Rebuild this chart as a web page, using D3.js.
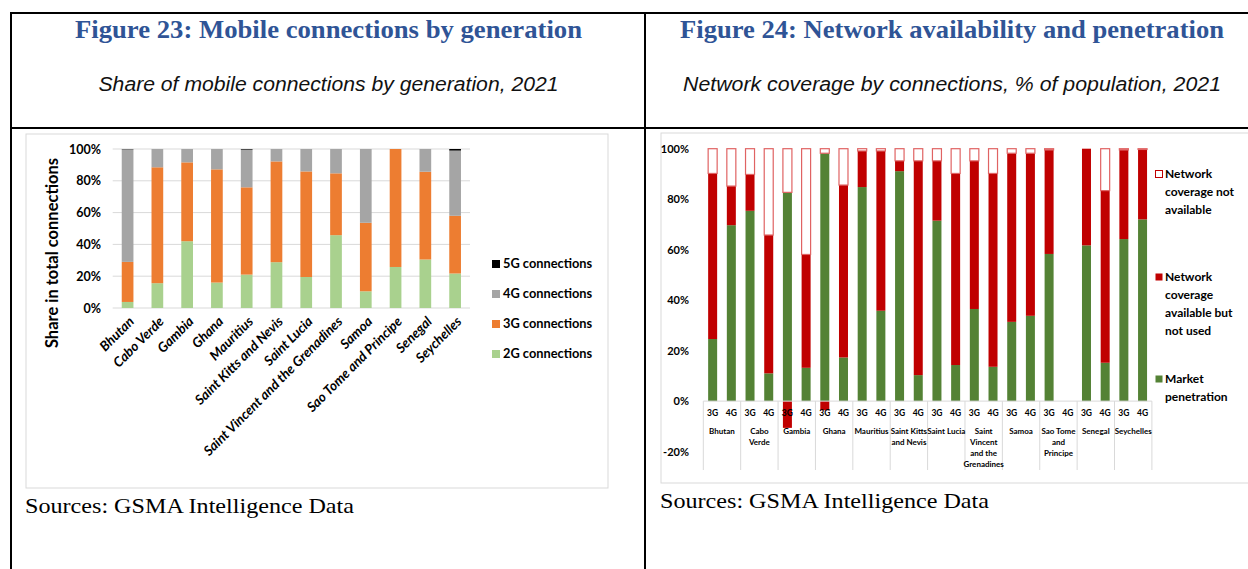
<!DOCTYPE html>
<html>
<head>
<meta charset="utf-8">
<script src="https://cdn.jsdelivr.net/npm/d3@7"></script>
<style>
  body { margin: 0; background: #fff; }
  svg text { font-family: Lato, "Open Sans", sans-serif; }
</style>
</head>
<body>
<div id="page"></div>
<script>
// ---- Figure 23 data (share of connections, %) ----
const countries = ["Bhutan", "Cabo Verde", "Gambia", "Ghana", "Mauritius", "Saint Kitts and Nevis",
  "Saint Lucia", "Saint Vincent and the Grenadines", "Samoa", "Sao Tome and Principe", "Senegal", "Seychelles"];
const share2G = [3.8, 15.6, 42, 16, 21, 28.8, 19.5, 45.8, 10.5, 25.8, 30.5, 21.7];
const share3G = [25.2, 72.9, 49.6, 71.2, 54.9, 63.4, 66.4, 38.9, 43.1, 74.2, 55.2, 36.3];
const share4G = [70.8, 11.5, 8.4, 12.8, 23.7, 7.8, 14.1, 15.3, 46.4, 0, 14.3, 41];
const share5G = [0.2, 0, 0, 0, 0.4, 0, 0, 0, 0, 0, 0, 1];
const genKeys = ["2G connections", "3G connections", "4G connections", "5G connections"];
const leftTicks = [0, 20, 40, 60, 80, 100];

// ---- Figure 24 data (% of population) ----
const groupLabels = ["Bhutan", "Cabo\nVerde", "Gambia", "Ghana", "Mauritius", "Saint Kitts\nand Nevis",
  "Saint Lucia", "Saint\nVincent\nand the\nGrenadines", "Samoa", "Sao Tome\nand\nPrincipe", "Senegal", "Seychelles"];
const techs = ["3G", "4G"];
const penetration = [24.6, 69.7, 75.4, 11, 82.7, 13.2, 98.2, 17.3, 84.8, 35.8, 91.1, 10.3,
  71.5, 14.3, 36.5, 13.6, 31.4, 33.8, 58.3, 0, 61.7, 15.2, 64.2, 72];
const availNotUsed = [65.6, 15.5, 14.4, 54.8, -10.6, 44.9, -3.6, 68.3, 14.3, 63.3, 4.1, 84.9,
  23.7, 75.9, 58.7, 76.6, 66.8, 64.4, 41.2, 0, 38.3, 68.2, 35.3, 27.7];
const notAvailable = [9.8, 14.8, 10.2, 34.2, 17.3, 41.9, 1.8, 14.4, 0.9, 0.9, 4.8, 4.8,
  4.8, 9.8, 4.8, 9.8, 1.8, 1.8, 0.5, 0, 0, 16.6, 0.5, 0.3];
const covKeys = ["Market penetration", "Network coverage available but not used", "Network coverage not available"];
const rightTicks = [-20, 0, 20, 40, 60, 80, 100];

const W = 1248, H = 569;
const svg = d3.select("#page").append("svg").attr("width", W).attr("height", H);

// ---- table frame ----
const frame = svg.append("g").attr("stroke", "#000").attr("stroke-width", 2);
frame.append("line").attr("x1", 11).attr("x2", W).attr("y1", 13).attr("y2", 13);
frame.append("line").attr("x1", 11).attr("x2", W).attr("y1", 128).attr("y2", 128);
frame.append("line").attr("x1", 11).attr("x2", 11).attr("y1", 12).attr("y2", H);
frame.append("line").attr("x1", 645).attr("x2", 645).attr("y1", 12).attr("y2", H);

function heading(cx, title, titleW, sub, subW) {
  svg.append("text").attr("x", cx - titleW / 2).attr("y", 38)
    .attr("textLength", titleW).attr("lengthAdjust", "spacingAndGlyphs")
    .style("font-family", "'Liberation Serif', serif").style("font-weight", "bold")
    .style("font-size", "25px").attr("fill", "#2f5496").text(title);
  svg.append("text").attr("x", cx - subW / 2).attr("y", 91)
    .attr("textLength", subW).attr("lengthAdjust", "spacingAndGlyphs")
    .style("font-family", "'Liberation Sans', Arial, sans-serif").style("font-style", "italic")
    .style("font-size", "20px").attr("fill", "#111").text(sub);
}
heading(328.5, "Figure 23: Mobile connections by generation", 507, "Share of mobile connections by generation, 2021", 460);
heading(952, "Figure 24: Network availability and penetration", 544, "Network coverage by connections, % of population, 2021", 538);

function sources(x, y) {
  svg.append("text").attr("x", x).attr("y", y)
    .attr("textLength", 329).attr("lengthAdjust", "spacingAndGlyphs")
    .style("font-family", "'Liberation Serif', serif").style("font-size", "22px")
    .attr("fill", "#000").text("Sources: GSMA Intelligence Data");
}
sources(25, 513);
sources(660, 508);

// ================= Figure 23 =================
const left = svg.append("g");
left.append("rect").attr("x", 26).attr("y", 134).attr("width", 582).attr("height", 354)
  .attr("fill", "#fff").attr("stroke", "#d9d9d9");

const x1 = d3.scaleBand().domain(countries).range([112.7, 470]).paddingInner(0.607).paddingOuter(0.3035);
const y1 = d3.scaleLinear().domain([0, 100]).range([308, 149]);
const genColor = d3.scaleOrdinal().domain(genKeys).range(["#a9d18e", "#ed7d31", "#a5a5a5", "#000000"]);

left.append("g").selectAll("line").data(leftTicks).join("line")
  .attr("x1", 112.7).attr("x2", 470).attr("y1", d => y1(d)).attr("y2", d => y1(d))
  .attr("stroke", "#d9d9d9");

const genRows = countries.map((c, i) => ({
  country: c, "2G connections": share2G[i], "3G connections": share3G[i],
  "4G connections": share4G[i], "5G connections": share5G[i]
}));
const genStack = d3.stack().keys(genKeys)(genRows);
left.append("g").selectAll("g").data(genStack).join("g")
  .attr("fill", d => genColor(d.key))
  .selectAll("rect").data(d => d).join("rect")
  .attr("x", d => x1(d.data.country)).attr("width", x1.bandwidth())
  .attr("y", d => y1(d[1])).attr("height", d => Math.max(0, y1(d[0]) - y1(d[1])));

const yAxis1 = left.append("g").attr("transform", "translate(104,0)")
  .call(d3.axisLeft(y1).tickValues(leftTicks).tickFormat(d => d + "%").tickSize(0));
yAxis1.select(".domain").remove();
yAxis1.selectAll("text").style("font-family", "Lato, sans-serif").style("font-weight", "bold")
  .style("font-size", "12.5px").attr("fill", "#000");

left.append("text").attr("transform", "translate(58,253) rotate(-90)").attr("text-anchor", "middle")
  .style("font-weight", "bold").style("font-size", "16.5px").attr("fill", "#000")
  .text("Share in total connections");

left.append("g").selectAll("text").data(countries).join("text")
  .attr("transform", d => `translate(${x1(d) + x1.bandwidth() / 2 + 4},${319}) rotate(-45)`)
  .attr("text-anchor", "end").attr("dy", "0.35em")
  .style("font-weight", "bold").style("font-style", "italic").style("font-size", "13.5px")
  .attr("fill", "#000").text(d => d);

const legend1 = left.append("g").selectAll("g").data(genKeys.slice().reverse()).join("g")
  .attr("transform", (d, i) => `translate(492,${264 + i * 30})`);
legend1.append("rect").attr("y", -4).attr("width", 8).attr("height", 8).attr("fill", d => genColor(d));
legend1.append("text").attr("x", 11).attr("dy", "0.35em")
  .style("font-weight", "bold").style("font-size", "12.8px").attr("fill", "#000").text(d => d);

// ================= Figure 24 =================
const right = svg.append("g");
right.append("rect").attr("x", 661).attr("y", 133).attr("width", 600).attr("height", 350)
  .attr("fill", "#fff").attr("stroke", "#d9d9d9");

const slots = [];
groupLabels.forEach((g, gi) => techs.forEach((t, ti) => slots.push({ group: gi, tech: t, idx: gi * 2 + ti })));
const x2 = d3.scaleBand().domain(slots.map(s => s.idx)).range([703.3, 1151.9]).paddingInner(0.465).paddingOuter(0.2325);
const step2 = x2.step();
const y2 = d3.scaleLinear().domain([-20, 100]).range([451.6, 148.7]);
const covColor = d3.scaleOrdinal().domain(covKeys).range(["#548235", "#c00000", "#ffffff"]);

const covRows = slots.map((s, i) => ({
  idx: s.idx, "Market penetration": penetration[i],
  "Network coverage available but not used": availNotUsed[i],
  "Network coverage not available": notAvailable[i]
}));
const covStack = d3.stack().keys(covKeys).offset(d3.stackOffsetDiverging)(covRows);
right.append("g").selectAll("g").data(covStack).join("g")
  .attr("fill", d => covColor(d.key))
  .attr("stroke", d => d.key === covKeys[2] ? "#e06363" : "none")
  .attr("stroke-width", 1.2)
  .selectAll("rect").data(d => d.filter(v => v[1] !== v[0])).join("rect")
  .attr("x", d => x2(d.data.idx) + 0.5).attr("width", x2.bandwidth() - 1)
  .attr("y", d => y2(d[1])).attr("height", d => y2(d[0]) - y2(d[1]));

const yAxis2 = right.append("g").attr("transform", "translate(692,0)")
  .call(d3.axisLeft(y2).tickValues(rightTicks).tickFormat(d => d + "%").tickSize(0));
yAxis2.select(".domain").remove();
yAxis2.selectAll("text").style("font-family", "Lato, sans-serif").style("font-weight", "bold")
  .style("font-size", "11px").attr("fill", "#000");

// category table under the axis
const x0 = 703.3, x1r = 1151.9;
right.append("line").attr("x1", x0).attr("x2", x1r).attr("y1", y2(0)).attr("y2", y2(0)).attr("stroke", "#d9d9d9");
right.append("g").selectAll("line").data(d3.range(groupLabels.length + 1)).join("line")
  .attr("x1", i => x0 + i * step2 * 2).attr("x2", i => x0 + i * step2 * 2)
  .attr("y1", y2(0)).attr("y2", 470).attr("stroke", "#d9d9d9");

right.append("g").selectAll("text").data(slots).join("text")
  .attr("x", d => x2(d.idx) + x2.bandwidth() / 2).attr("y", 413).attr("dy", "0.35em")
  .attr("text-anchor", "middle").style("font-weight", "bold").style("font-size", "8.5px")
  .attr("fill", "#000").text(d => d.tech);

right.append("g").selectAll("text").data(groupLabels).join("text")
  .attr("x", (d, i) => x0 + (i + 0.5) * step2 * 2).attr("y", 431).attr("text-anchor", "middle")
  .style("font-weight", "bold").style("font-size", "8px").attr("fill", "#000")
  .selectAll("tspan").data(d => d.split("\n")).join("tspan")
  .attr("x", function () { return this.parentNode.getAttribute("x"); })
  .attr("dy", (d, i) => i === 0 ? "0.35em" : "11px").text(d => d);

const legendText = [["Network", "coverage not", "available"], ["Network", "coverage", "available but", "not used"], ["Market", "penetration"]];
const legendY = [174, 277, 379];
const legend2 = right.append("g").selectAll("g").data(covKeys.slice().reverse()).join("g")
  .attr("transform", (d, i) => `translate(1155,${legendY[i]})`);
legend2.append("rect").attr("x", 0.5).attr("y", -3.5).attr("width", 7).attr("height", 7)
  .attr("fill", d => covColor(d)).attr("stroke", d => d === covKeys[2] ? "#c00000" : "none");
legend2.append("text").attr("x", 10)
  .style("font-weight", "bold").style("font-size", "12px").attr("fill", "#000")
  .selectAll("tspan").data((d, i) => legendText[i]).join("tspan")
  .attr("x", 10).attr("dy", (d, i) => i === 0 ? "0.35em" : "18px").text(d => d);
</script>
</body>
</html>
